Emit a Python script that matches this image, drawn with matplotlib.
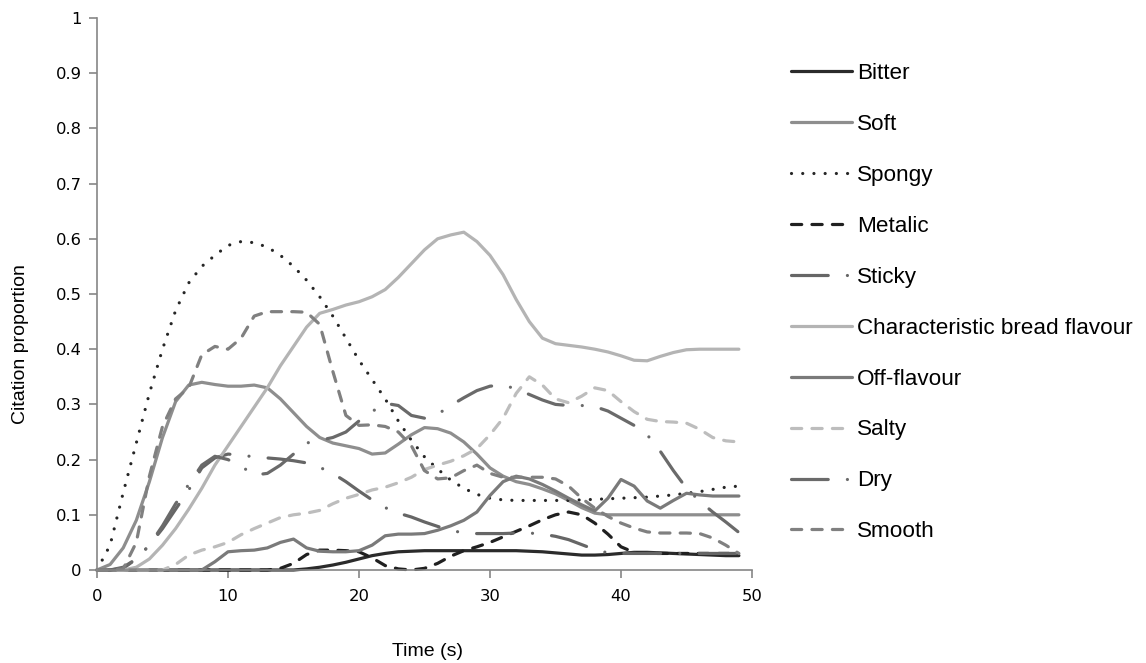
import numpy as np
import matplotlib
matplotlib.use("Agg")
import matplotlib.pyplot as plt

# ---- data (time in s, citation proportions) ----
time = list(range(0, 50))

bitter = [0, 0, 0, 0, 0, 0, 0, 0, 0, 0,
          0, 0, 0, 0, 0, 0, 0.002, 0.005, 0.009, 0.014,
          0.02, 0.026, 0.03, 0.033, 0.034, 0.035, 0.035, 0.035, 0.035, 0.035,
          0.035, 0.035, 0.035, 0.034, 0.033, 0.031, 0.029, 0.027, 0.027, 0.028,
          0.03, 0.032, 0.032, 0.031, 0.03, 0.029, 0.028, 0.027, 0.026, 0.026]

soft = [0, 0.01, 0.04, 0.09, 0.16, 0.24, 0.305, 0.335, 0.34, 0.336,
        0.333, 0.333, 0.335, 0.33, 0.31, 0.285, 0.26, 0.24, 0.23, 0.225,
        0.22, 0.21, 0.212, 0.228, 0.245, 0.258, 0.256, 0.248, 0.232, 0.21,
        0.185, 0.17, 0.16, 0.155, 0.147, 0.138, 0.126, 0.113, 0.103, 0.1,
        0.1, 0.1, 0.1, 0.1, 0.1, 0.1, 0.1, 0.1, 0.1, 0.1]

spongy = [0, 0.045, 0.14, 0.23, 0.32, 0.40, 0.47, 0.52, 0.55, 0.57,
          0.588, 0.595, 0.593, 0.585, 0.57, 0.55, 0.525, 0.495, 0.46, 0.42,
          0.38, 0.345, 0.31, 0.27, 0.235, 0.205, 0.183, 0.163, 0.148, 0.137,
          0.13, 0.127, 0.126, 0.126, 0.126, 0.126, 0.126, 0.127, 0.128, 0.129,
          0.13, 0.131, 0.132, 0.134, 0.136, 0.139, 0.142, 0.146, 0.15, 0.152]

metalic = [0, 0, 0, 0, 0, 0, 0, 0, 0, 0,
           0, 0, 0, 0, 0.003, 0.012, 0.028, 0.036, 0.036, 0.035,
           0.033, 0.022, 0.008, 0.002, 0.0, 0.003, 0.012, 0.025, 0.035, 0.042,
           0.05, 0.06, 0.07, 0.08, 0.091, 0.1, 0.105, 0.1, 0.085, 0.065,
           0.042, 0.032, 0.03, 0.03, 0.03, 0.03, 0.03, 0.03, 0.03, 0.03]

sticky = [0, 0, 0.003, 0.02, 0.045, 0.075, 0.11, 0.145, 0.185, 0.203,
          0.21, 0.208, 0.205, 0.203, 0.201, 0.198, 0.194, 0.186, 0.175, 0.16,
          0.143, 0.127, 0.113, 0.103, 0.096, 0.087, 0.079, 0.072, 0.067, 0.066,
          0.066, 0.066, 0.067, 0.067, 0.065, 0.061, 0.055, 0.046, 0.037, 0.031,
          0.03, 0.03, 0.03, 0.03, 0.03, 0.03, 0.03, 0.03, 0.03, 0.03]

bread = [0, 0, 0, 0.005, 0.02, 0.045, 0.075, 0.11, 0.148, 0.19,
         0.225, 0.26, 0.295, 0.33, 0.37, 0.405, 0.44, 0.465, 0.472, 0.48,
         0.486, 0.495, 0.508, 0.53, 0.555, 0.58, 0.60, 0.607, 0.612, 0.595,
         0.57, 0.535, 0.49, 0.45, 0.42, 0.41, 0.407, 0.404, 0.40, 0.395,
         0.388, 0.38, 0.379, 0.387, 0.394, 0.399, 0.40, 0.40, 0.40, 0.40]

off_flavour = [0, 0, 0, 0, 0, 0, 0, 0, 0, 0.015,
               0.033, 0.035, 0.036, 0.04, 0.05, 0.056, 0.04, 0.034, 0.033, 0.033,
               0.035, 0.045, 0.062, 0.065, 0.065, 0.066, 0.072, 0.08, 0.09, 0.105,
               0.135, 0.16, 0.17, 0.165, 0.155, 0.143, 0.13, 0.118, 0.107, 0.13,
               0.164, 0.152, 0.125, 0.112, 0.126, 0.139, 0.136, 0.134, 0.134, 0.134]

salty = [0, 0, 0, 0, 0, 0, 0.01, 0.027, 0.036, 0.042,
         0.05, 0.064, 0.075, 0.085, 0.095, 0.1, 0.103, 0.108, 0.12, 0.13,
         0.137, 0.145, 0.15, 0.158, 0.168, 0.182, 0.19, 0.197, 0.207, 0.22,
         0.245, 0.275, 0.32, 0.35, 0.335, 0.31, 0.303, 0.315, 0.33, 0.325,
         0.305, 0.287, 0.273, 0.269, 0.268, 0.266, 0.255, 0.24, 0.234, 0.232]

dry = [0, 0, 0.005, 0.02, 0.045, 0.08, 0.12, 0.155, 0.19, 0.206,
       0.2, 0.188, 0.172, 0.175, 0.19, 0.21, 0.23, 0.235, 0.24, 0.25,
       0.27, 0.287, 0.302, 0.298, 0.28, 0.275, 0.282, 0.298, 0.312, 0.325,
       0.333, 0.335, 0.328, 0.318, 0.308, 0.3, 0.298, 0.298, 0.296, 0.288,
       0.275, 0.262, 0.245, 0.215, 0.18, 0.148, 0.125, 0.105, 0.087, 0.068]

smooth = [0, 0, 0.002, 0.05, 0.17, 0.26, 0.31, 0.33, 0.39, 0.405,
          0.4, 0.42, 0.46, 0.468, 0.468, 0.468, 0.467, 0.445, 0.36, 0.28,
          0.262, 0.263, 0.26, 0.25, 0.225, 0.18, 0.165, 0.167, 0.18, 0.19,
          0.175, 0.168, 0.168, 0.168, 0.168, 0.165, 0.152, 0.13, 0.112, 0.097,
          0.085, 0.076, 0.069, 0.067, 0.067, 0.067, 0.066, 0.058, 0.045, 0.03]

labels = ["Bitter", "Soft", "Spongy", "Metalic", "Sticky",
          "Characteristic bread flavour", "Off-flavour", "Salty", "Dry", "Smooth"]
x_ticks = [0, 10, 20, 30, 40, 50]
y_ticks = [0, 0.1, 0.2, 0.3, 0.4, 0.5, 0.6, 0.7, 0.8, 0.9, 1]
y_ticklabels = ["0", "0.1", "0.2", "0.3", "0.4", "0.5", "0.6", "0.7", "0.8", "0.9", "1"]

# ---- styles ----
dot = (0, (0.01, 3.5))
dash = (0, (3.2, 3.2))
dashdot = (0, (11.5, 6.0, 0.01, 6.0))
styles = [
    dict(color="#2b2b2b", ls="-"),
    dict(color="#8e8e8e", ls="-"),
    dict(color="#262626", ls=dot),
    dict(color="#202020", ls=dash),
    dict(color="#666666", ls=dashdot),
    dict(color="#b4b4b4", ls="-"),
    dict(color="#7a7a7a", ls="-"),
    dict(color="#bdbdbd", ls=dash),
    dict(color="#6a6a6a", ls=dashdot),
    dict(color="#808080", ls=dash),
]
series = [bitter, soft, spongy, metalic, sticky, bread, off_flavour, salty, dry, smooth]

fig = plt.figure(figsize=(11.46, 6.63), dpi=100)
ax = fig.add_axes([97 / 1146, 93 / 663, (752 - 97) / 1146, (570 - 18) / 663])

for vals, lab, st in zip(series, labels, styles):
    ax.plot(time, vals, color=st["color"], linestyle=st["ls"], linewidth=2.3,
            label=lab, dash_capstyle="round", solid_capstyle="round",
            solid_joinstyle="round", dash_joinstyle="round", clip_on=False)

ax.set_xlim(0, 50)
ax.set_ylim(0, 1)
ax.set_xticks(x_ticks)
ax.set_yticks(y_ticks)
ax.set_yticklabels(y_ticklabels)
for s in ["top", "right"]:
    ax.spines[s].set_visible(False)
for s in ["left", "bottom"]:
    ax.spines[s].set_color("#868686")
    ax.spines[s].set_linewidth(1.2)
ax.tick_params(axis="both", direction="out", length=6, width=1.2, color="#868686",
               labelsize=11.8)
ax.tick_params(axis="y", pad=5)
ax.tick_params(axis="x", pad=8)
for lab in ax.get_xticklabels() + ax.get_yticklabels():
    lab.set_family("DejaVu Sans")
ax.set_xlabel("Time (s)", fontsize=14, family="Liberation Sans")
ax.xaxis.set_label_coords((428 - 97) / 655, -(643 - 570) / 552)
ax.set_ylabel("Citation proportion", fontsize=14, family="Liberation Sans")
ax.yaxis.set_label_coords((29 - 97) / 655, (570 - 344) / 552)

leg = fig.legend(loc="upper left", bbox_to_anchor=(791 / 1146, 1 - 63 / 663),
                 frameon=False, prop={"family": "Liberation Sans", "size": 16.2},
                 handlelength=2.72, handletextpad=0.22, labelspacing=1.33,
                 borderpad=0, borderaxespad=0)

fig.savefig("out.png", dpi=100)
